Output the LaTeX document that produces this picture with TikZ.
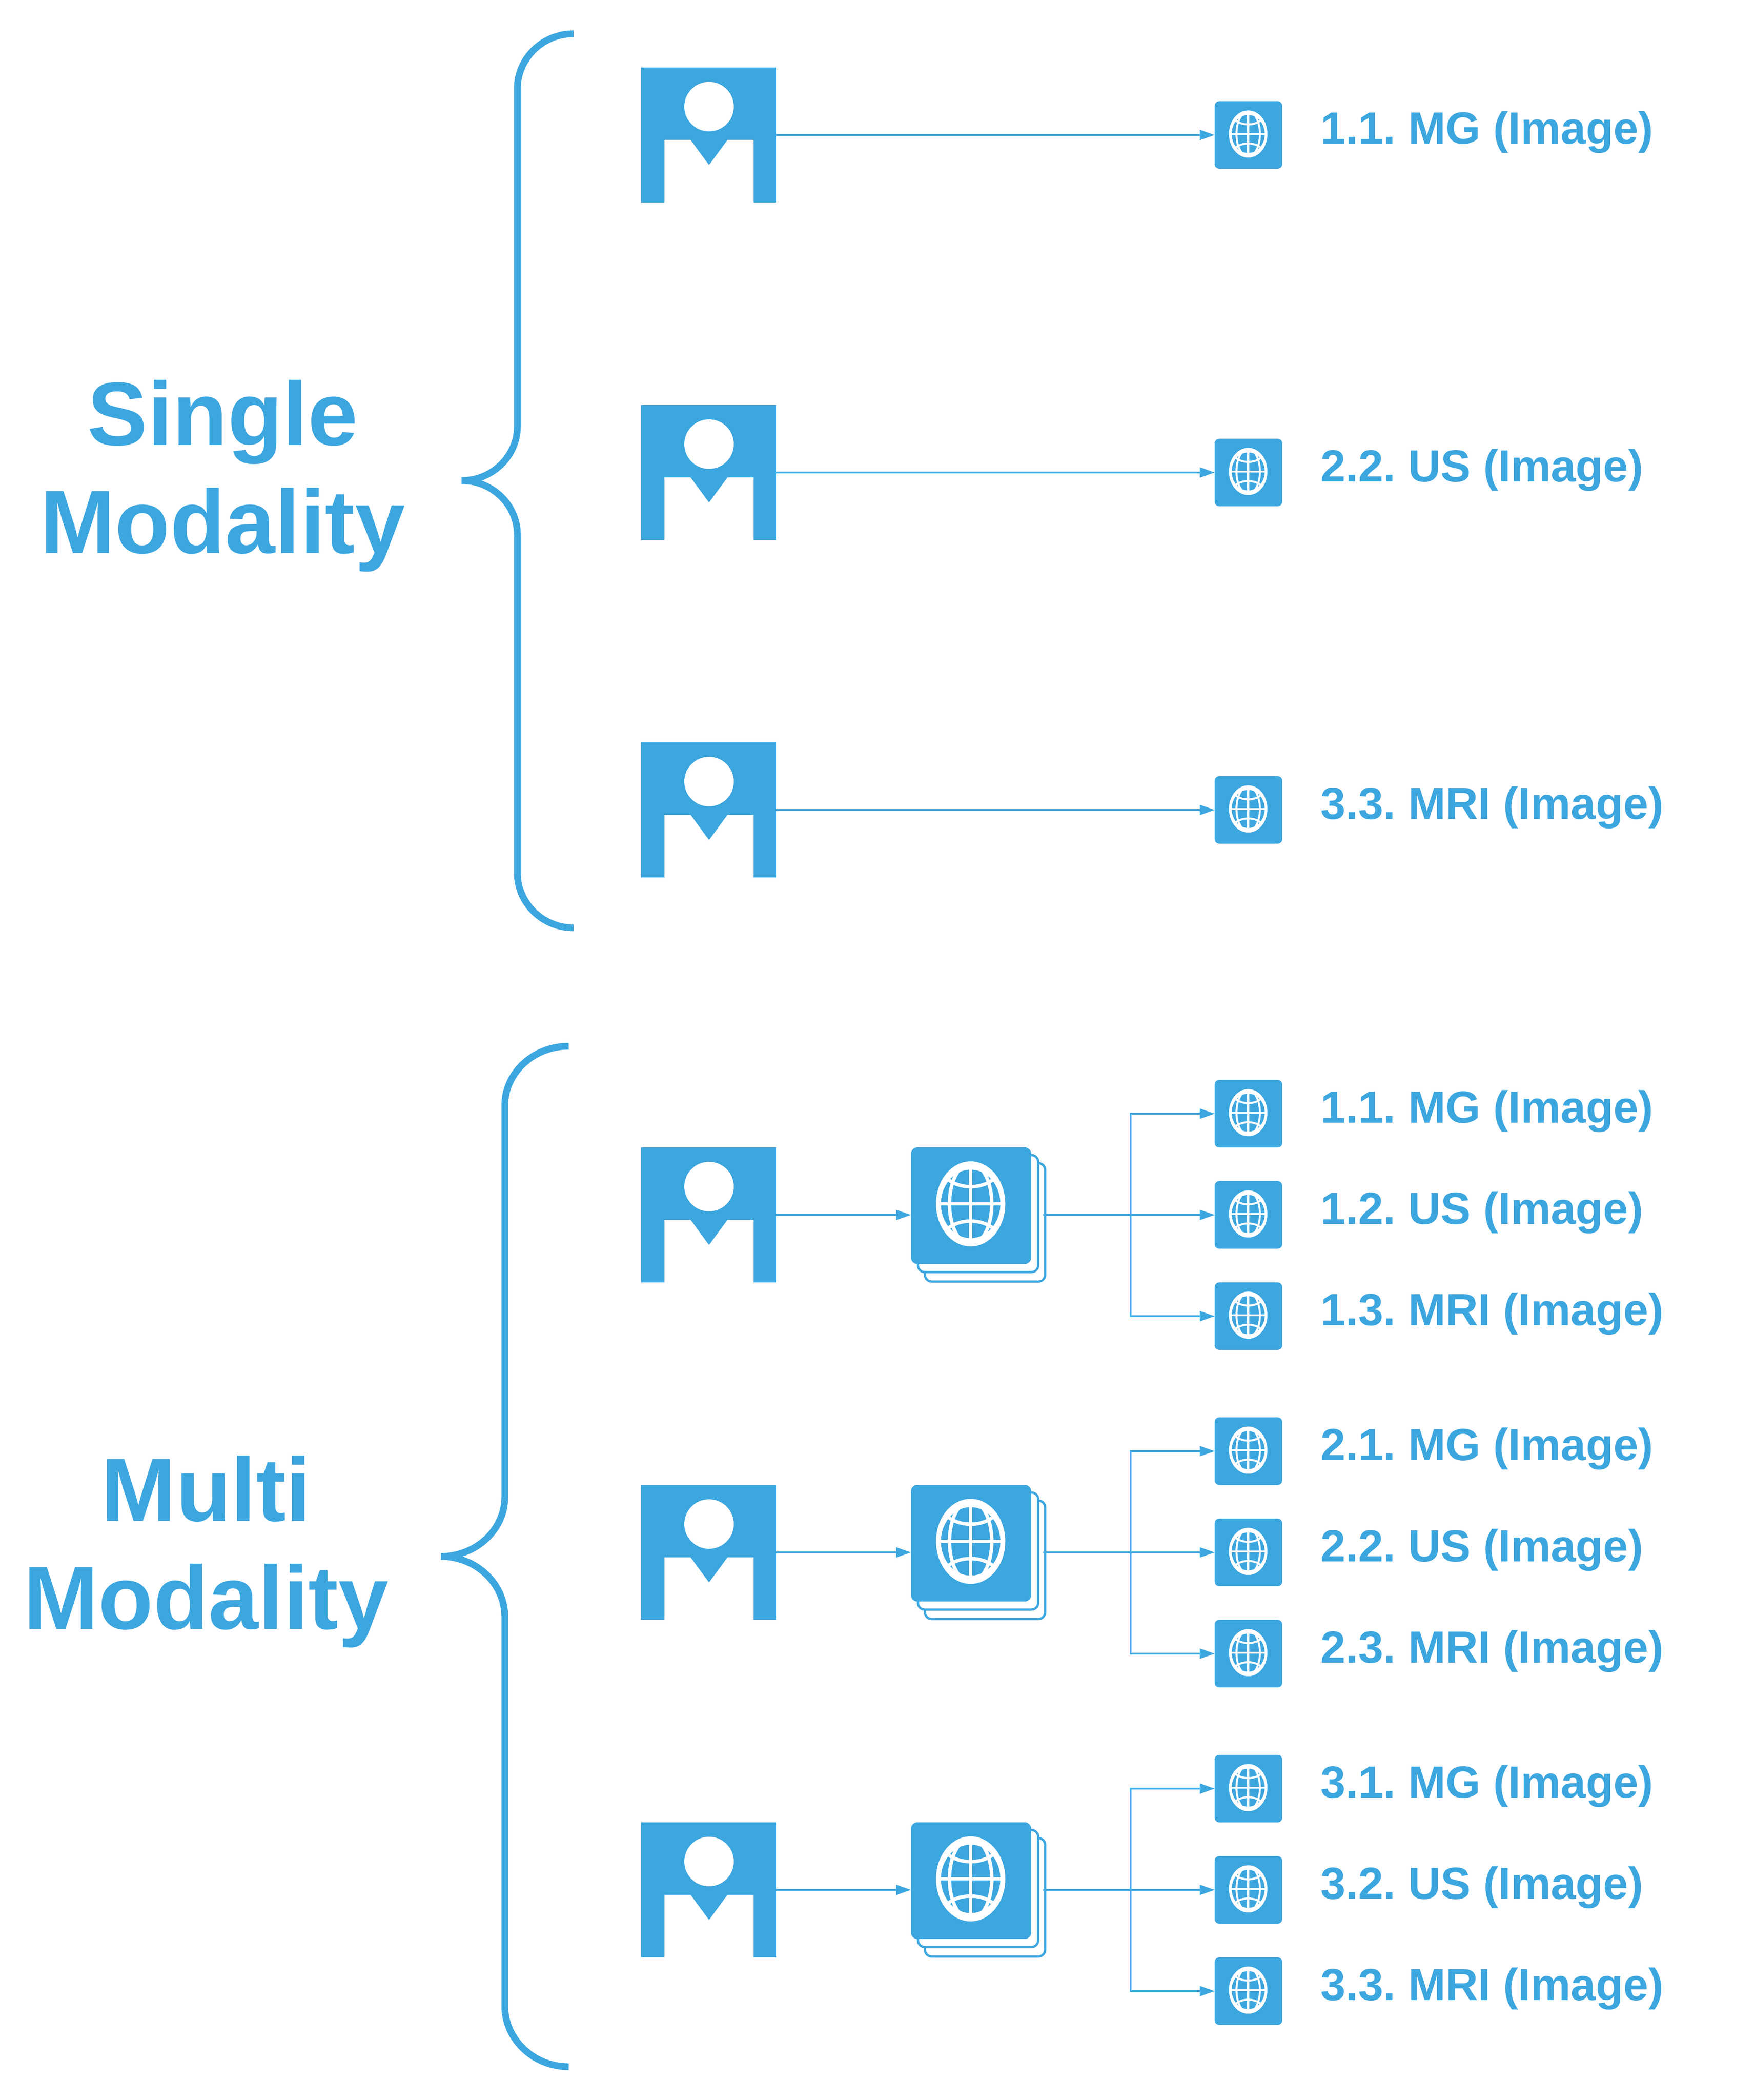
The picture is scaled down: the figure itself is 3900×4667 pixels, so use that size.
\documentclass[tikz,border=0pt]{standalone}
\usepackage{fontspec}
\setmainfont{Liberation Sans}
\usepackage{xcolor}
\usetikzlibrary{arrows.meta}
\usetikzlibrary{positioning}
\definecolor{modblue}{HTML}{3CA6DF}
\frenchspacing
\tikzset{
  conn/.style = {draw=modblue, line width=.04cm, -{Triangle[length=.33cm, width=.22cm]}},
  brace/.style = {draw=modblue, line width=.15cm},
  lab/.style = {anchor=base west, inner sep=0, text=modblue, font=\fontsize{28.45}{34}\selectfont\bfseries},
  title/.style = {align=center, inner sep=0, text=modblue, font=\fontsize{56.9}{68.3}\selectfont\bfseries},
  pics/globe/.style = {code={
    \begin{scope}[scale=#1, shift={(-1,-4)}, line width=2.2pt*#1]
      \fill [white] (0,0) ellipse [x radius=77, y radius=94.5];
      \fill [modblue] (0,0) ellipse [x radius=66, y radius=76];
      \clip (0,0) ellipse [x radius=70, y radius=85];
      \draw [white] (0,-90) -- (0,90);
      \draw [white] (-70,0) -- (70,0);
      \draw [white] (0,0) ellipse [x radius=47, y radius=90];
      \draw [white] (-56,-60) .. controls (-30,-31) and (30,-31) .. (56,-60);
      \draw [white] (-56,60) .. controls (-30,31) and (30,31) .. (56,60);
    \end{scope}
  }},
  pics/figure/.style = {code={
    \fill [white] (1,-63) circle [radius=55];
    \fill [white] (-98,151) -- (-98,11) -- (-40,11) -- (1,67) -- (42,11) -- (100,11) -- (100,151) -- cycle;
  }},
  personbox/.style = {rectangle, fill=modblue, inner sep=0, outer sep=0, minimum size=3cm,
    path picture={\pic at (path picture bounding box.center) {figure};}},
  smallbox/.style = {rectangle, rounded corners=.1cm, fill=modblue, inner sep=0, outer sep=0, minimum size=1.5cm,
    path picture={\pic at (path picture bounding box.center) {globe=.555};}},
  stackbox/.style = {rectangle, rounded corners=.14cm, fill=modblue, inner sep=0, outer sep=0, minimum width=2.67cm, minimum height=2.59cm,
    path picture={\pic at (path picture bounding box.center) {globe=1};}},
  sheet/.style = {rectangle, rounded corners=.15cm, draw=modblue, fill=white, line width=.05cm, inner sep=0, outer sep=0, minimum width=2.67cm}
}

\begin{document}
\begin{tikzpicture}[x=.01cm, y=-.01cm]
\useasboundingbox (0,0) rectangle (3900,4667);
% single modality
\node [title] (single) at (495,1058) {Single\\Modality};
\draw [brace] (1275,75) .. controls (1206,75) and (1150,130) .. (1150,197) -- (1150,948) .. controls (1150,1014) and (1094,1068) .. (1026,1068) .. controls (1094,1068) and (1150,1122) .. (1150,1188) -- (1150,1940) .. controls (1150,2007) and (1206,2062) .. (1275,2062);
\node [personbox] (P1) at (1575,300) {};
\node [personbox] (P2) at (1575,1050) {};
\node [personbox] (P3) at (1575,1800) {};
\node [smallbox] (S1) at (2775,300) {};
\node [smallbox] (S2) at (2775,1050) {};
\node [smallbox] (S3) at (2775,1800) {};
\node [lab] (L1) at (2935,320) {1.1. MG (Image)};
\node [lab] (L2) at (2935,1070) {2.2. US (Image)};
\node [lab] (L3) at (2935,1820) {3.3. MRI (Image)};
\draw [conn] (P1) -- (S1);
\draw [conn] (P2) -- (S2);
\draw [conn] (P3) -- (S3);
% multi modality
\node [title] (multi) at (458,3449) {Multi\\Modality};
\draw [brace] (1264,2325) .. controls (1186,2325) and (1122,2384) .. (1122,2457) -- (1122,3327) .. controls (1122,3400) and (1058,3459) .. (980,3459) .. controls (1058,3459) and (1122,3519) .. (1122,3593) -- (1122,4458) .. controls (1122,4532) and (1186,4593) .. (1264,4593);
\node [personbox] (MP1) at (1575,2700) {};
\node [personbox] (MP2) at (1575,3450) {};
\node [personbox] (MP3) at (1575,4200) {};
\node [sheet, minimum height=2.63cm] (C1) at (2189.5,2716.5) {};
\node [sheet, minimum height=2.60cm] (B1) at (2174,2697) {};
\node [stackbox] (G1) at (2158.5,2679.5) {};
\node [sheet, minimum height=2.63cm] (C2) at (2189.5,3466.5) {};
\node [sheet, minimum height=2.60cm] (B2) at (2174,3447) {};
\node [stackbox] (G2) at (2158.5,3429.5) {};
\node [sheet, minimum height=2.63cm] (C3) at (2189.5,4216.5) {};
\node [sheet, minimum height=2.60cm] (B3) at (2174,4197) {};
\node [stackbox] (G3) at (2158.5,4179.5) {};
\node [smallbox] (S11) at (2775,2475) {};
\node [smallbox] (S12) at (2775,2700) {};
\node [smallbox] (S13) at (2775,2925) {};
\node [smallbox] (S21) at (2775,3225) {};
\node [smallbox] (S22) at (2775,3450) {};
\node [smallbox] (S23) at (2775,3675) {};
\node [smallbox] (S31) at (2775,3975) {};
\node [smallbox] (S32) at (2775,4200) {};
\node [smallbox] (S33) at (2775,4425) {};
\node [lab] (L11) at (2935,2495) {1.1. MG (Image)};
\node [lab] (L12) at (2935,2720) {1.2. US (Image)};
\node [lab] (L13) at (2935,2945) {1.3. MRI (Image)};
\node [lab] (L21) at (2935,3245) {2.1. MG (Image)};
\node [lab] (L22) at (2935,3470) {2.2. US (Image)};
\node [lab] (L23) at (2935,3695) {2.3. MRI (Image)};
\node [lab] (L31) at (2935,3995) {3.1. MG (Image)};
\node [lab] (L32) at (2935,4220) {3.2. US (Image)};
\node [lab] (L33) at (2935,4445) {3.3. MRI (Image)};
\coordinate (T1) at (2319,2700);
\coordinate (T2) at (2319,3450);
\coordinate (T3) at (2319,4200);
\coordinate (J1) at (2512.5,2700);
\coordinate (J2) at (2512.5,3450);
\coordinate (J3) at (2512.5,4200);
\draw [conn] (MP1.east) -- (MP1 -| G1.west);
\draw [conn] (MP2.east) -- (MP2 -| G2.west);
\draw [conn] (MP3.east) -- (MP3 -| G3.west);
\draw [conn] (T1) -- (S12);
\draw [conn] (T2) -- (S22);
\draw [conn] (T3) -- (S32);
\draw [conn] (J1) |- (S11);
\draw [conn] (J1) |- (S13);
\draw [conn] (J2) |- (S21);
\draw [conn] (J2) |- (S23);
\draw [conn] (J3) |- (S31);
\draw [conn] (J3) |- (S33);
\end{tikzpicture}
\end{document}
